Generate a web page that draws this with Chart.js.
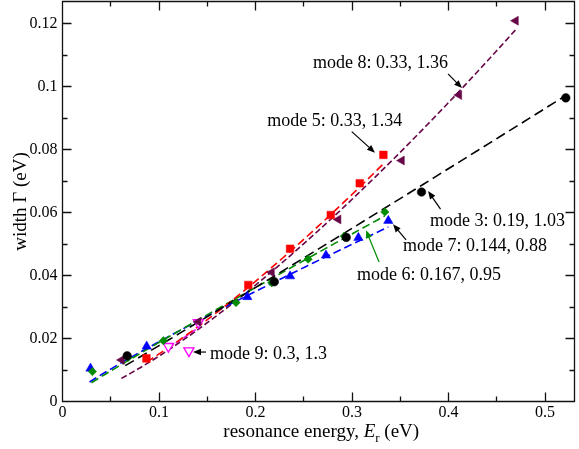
<!DOCTYPE html>
<html>
<head>
<meta charset="utf-8">
<script src="https://cdn.jsdelivr.net/npm/chart.js@4.4.1/dist/chart.umd.min.js"></script>
<style>
  html, body { margin: 0; padding: 0; background: #fff; }
</style>
</head>
<body>
<canvas id="widths" width="579" height="449"></canvas>
<script>
// measured resonances: energy E (eV) and width W (eV) per mode
const mode3E = [0.067, 0.2195, 0.294, 0.372, 0.5215];
const mode3W = [0.0145, 0.038, 0.0521, 0.0665, 0.0964];
const mode5E = [0.087, 0.1925, 0.2358, 0.278, 0.308, 0.3325];
const mode5W = [0.0137, 0.037, 0.0485, 0.0592, 0.0693, 0.0783];
const mode6E = [0.031, 0.068, 0.1045, 0.1798, 0.2168, 0.2545, 0.292, 0.334];
const mode6W = [0.0095, 0.014, 0.0193, 0.0314, 0.0377, 0.0452, 0.0525, 0.0602];
const mode7E = [0.029, 0.0872, 0.1915, 0.2358, 0.273, 0.3066, 0.3376];
const mode7W = [0.0105, 0.0175, 0.0332, 0.0398, 0.0464, 0.052, 0.0574];
const mode8E = [0.0613, 0.1407, 0.2168, 0.2858, 0.3515, 0.4109, 0.4696];
const mode8W = [0.0132, 0.0253, 0.041, 0.0578, 0.0765, 0.0973, 0.1209];
const mode9E = [0.1097, 0.131, 0.1407];
const mode9W = [0.0175, 0.0161, 0.0251];

// power-law fits W = a * E^b
const fitModes = ['3', '5', '6', '7', '8', '9'];
const fitA = [0.19, 0.33, 0.167, 0.144, 0.33, 0.3];
const fitB = [1.03, 1.34, 0.95, 0.88, 1.36, 1.3];
const fitFrom = [0.065, 0.087, 0.03, 0.028, 0.061, 0.1097];
const fitTo = [0.5215, 0.3325, 0.334, 0.3376, 0.4696, 0.1407];

const xMajor = [0, 0.1, 0.2, 0.3, 0.4, 0.5];
const xMinor = [0.05, 0.15, 0.25, 0.35, 0.45];
const yMajor = [0, 0.02, 0.04, 0.06, 0.08, 0.1, 0.12];
const yMinor = [0.01, 0.03, 0.05, 0.07, 0.09, 0.11];

const SERIF = '"Liberation Serif", "Times New Roman", serif';

const fitColors = ['#000000', '#ff0000', '#008b00', '#0000ff', '#670748', '#ff00ff'];
const fitDash = [[10, 5], [8, 4], [8, 4], [8, 4], [6, 3], [6, 3]];

// text notes: anchor in data units (left end of the baseline), arrow from -> to
const notes = [
    {mode: 0, at: [0.3808, 0.0557], from: [0.3917, 0.0611], to: [0.3788, 0.0668], arrow: '#000'},
    {mode: 1, at: [0.2122, 0.0875], from: [0.2997, 0.0857], to: [0.3238, 0.0790], arrow: '#000'},
    {mode: 2, at: [0.3052, 0.0386], from: [0.3280, 0.0443], to: [0.3145, 0.0544], arrow: '#008b00'},
    {mode: 3, at: [0.3528, 0.0478], from: [0.3560, 0.0513], to: [0.3425, 0.0563], arrow: '#000'},
    {mode: 4, at: [0.2596, 0.1059], from: [0.3995, 0.1040], to: [0.4140, 0.0995], arrow: '#000'},
    {mode: 5, at: [0.1528, 0.0135], from: [0.1487, 0.0157], to: [0.1352, 0.0157], arrow: '#000'},
];

function points(es, ws) {
    return es.map((e, i) => ({x: e, y: ws[i]}));
}

function fitCurve(i) {
    const out = [];
    const n = 40;
    for (let k = 0; k <= n; k++) {
        const e = fitFrom[i] + (fitTo[i] - fitFrom[i]) * k / n;
        out.push({x: e, y: fitA[i] * Math.pow(e, fitB[i])});
    }
    return out;
}

function markers(data, color, style, radius, rotation, filled) {
    return {
        data: data,
        showLine: false,
        pointStyle: style,
        pointRadius: radius,
        pointRotation: rotation,
        pointBackgroundColor: filled ? color : '#ffffff',
        pointBorderColor: color,
        pointBorderWidth: filled ? 0.5 : 1.3,
    };
}

const datasets = [
    markers(points(mode3E, mode3W), '#000000', 'circle', 4.3, 0, true),
    markers(points(mode5E, mode5W), '#ff0000', 'rect', 5.4, 0, true),
    markers(points(mode6E, mode6W), '#008b00', 'rectRot', 4.2, 0, true),
    markers(points(mode7E, mode7W), '#0000ff', 'triangle', 5.4, 0, true),
    markers(points(mode8E, mode8W), '#670748', 'triangle', 5.2, -90, true),
    markers(points(mode9E, mode9W), '#ff00ff', 'triangle', 5.8, 180, false),
];

fitModes.forEach((m, i) => {
    datasets.push({
        data: fitCurve(i),
        showLine: true,
        borderColor: fitColors[i],
        borderWidth: 1.6,
        borderDash: fitDash[i],
        pointRadius: 0,
        fill: false,
    });
});

function crisp(v) {
    return Math.round(v - 0.5) + 0.5;
}

const fmt = v => String(+v.toFixed(2));

const frameAndNotes = {
    id: 'frameAndNotes',
    afterDatasetsDraw(chart) {
        const {ctx, chartArea: a, scales: {x, y}} = chart;
        const left = crisp(a.left), right = crisp(a.right), top = crisp(a.top), bottom = crisp(a.bottom);
        ctx.save();

        // frame and inward ticks on all four sides
        ctx.strokeStyle = '#111';
        ctx.lineWidth = 1.3;
        ctx.beginPath();
        ctx.rect(left, top, right - left, bottom - top);
        const tickX = (v, len) => {
            const px = crisp(x.getPixelForValue(v));
            ctx.moveTo(px, bottom); ctx.lineTo(px, bottom - len);
            ctx.moveTo(px, top); ctx.lineTo(px, top + len);
        };
        const tickY = (v, len) => {
            const py = crisp(y.getPixelForValue(v));
            ctx.moveTo(left, py); ctx.lineTo(left + len, py);
            ctx.moveTo(right, py); ctx.lineTo(right - len, py);
        };
        xMajor.forEach(v => tickX(v, 9));
        xMinor.forEach(v => tickX(v, 5));
        yMajor.forEach(v => tickY(v, 9));
        yMinor.forEach(v => tickY(v, 5));
        ctx.stroke();

        // tick labels
        ctx.fillStyle = '#000';
        ctx.font = '16px ' + SERIF;
        ctx.textAlign = 'center';
        ctx.textBaseline = 'top';
        xMajor.forEach(v => ctx.fillText(fmt(v), x.getPixelForValue(v), a.bottom + 3));
        ctx.textAlign = 'right';
        ctx.textBaseline = 'middle';
        yMajor.forEach(v => ctx.fillText(fmt(v), a.left - 5, y.getPixelForValue(v)));

        // mode labels with arrows
        ctx.font = '18px ' + SERIF;
        ctx.textBaseline = 'alphabetic';
        ctx.textAlign = 'left';
        notes.forEach(n => {
            const i = n.mode;
            const text = 'mode ' + fitModes[i] + ': ' + fitA[i] + ', ' + fitB[i];
            ctx.fillText(text, x.getPixelForValue(n.at[0]), y.getPixelForValue(n.at[1]));

            const x0 = x.getPixelForValue(n.from[0]), y0 = y.getPixelForValue(n.from[1]);
            const x1 = x.getPixelForValue(n.to[0]), y1 = y.getPixelForValue(n.to[1]);
            const ang = Math.atan2(y1 - y0, x1 - x0);
            ctx.strokeStyle = n.arrow;
            ctx.fillStyle = n.arrow;
            ctx.lineWidth = 1.2;
            ctx.beginPath();
            ctx.moveTo(x0, y0);
            ctx.lineTo(x1 - 6 * Math.cos(ang), y1 - 6 * Math.sin(ang));
            ctx.stroke();
            ctx.beginPath();
            ctx.moveTo(x1, y1);
            ctx.lineTo(x1 - 8 * Math.cos(ang) + 3.2 * Math.sin(ang), y1 - 8 * Math.sin(ang) - 3.2 * Math.cos(ang));
            ctx.lineTo(x1 - 8 * Math.cos(ang) - 3.2 * Math.sin(ang), y1 - 8 * Math.sin(ang) + 3.2 * Math.cos(ang));
            ctx.closePath();
            ctx.fill();
            ctx.fillStyle = '#000';
        });

        // axis titles
        ctx.fillStyle = '#000';
        const cx = (a.left + a.right) / 2;
        const parts = [
            {t: 'resonance energy, ', f: '19px ' + SERIF, dy: 0},
            {t: 'E', f: 'italic 19px ' + SERIF, dy: 0},
            {t: 'r', f: '13px ' + SERIF, dy: 5},
            {t: ' (eV)', f: '19px ' + SERIF, dy: 0},
        ];
        let total = 0;
        parts.forEach(p => { ctx.font = p.f; p.w = ctx.measureText(p.t).width; total += p.w; });
        let px = cx - total / 2 + 3;
        parts.forEach(p => {
            ctx.font = p.f;
            ctx.fillText(p.t, px, 437 + p.dy);
            px += p.w;
        });

        ctx.translate(26, (a.top + a.bottom) / 2);
        ctx.rotate(-Math.PI / 2);
        ctx.font = '19px ' + SERIF;
        ctx.textAlign = 'center';
        ctx.fillText('width \u0393 (eV)', 0, 0);
        ctx.restore();
    }
};

new Chart(document.getElementById('widths'), {
    type: 'scatter',
    data: {datasets: datasets},
    options: {
        responsive: false,
        animation: false,
        devicePixelRatio: 1,
        layout: {autoPadding: false, padding: {left: 0, right: 5, top: 1.5, bottom: 0}},
        plugins: {legend: {display: false}, tooltip: {enabled: false}},
        scales: {
            x: {
                type: 'linear',
                min: 0,
                max: 0.53,
                afterFit: s => { s.height = 47.5; },
                grid: {display: false, drawTicks: false},
                border: {display: false},
                ticks: {display: false, stepSize: 0.1},
            },
            y: {
                type: 'linear',
                min: 0,
                max: 0.127,
                afterFit: s => { s.width = 62.5; },
                grid: {display: false, drawTicks: false},
                border: {display: false},
                ticks: {display: false, stepSize: 0.02},
            },
        },
    },
    plugins: [frameAndNotes],
});
</script>
</body>
</html>
